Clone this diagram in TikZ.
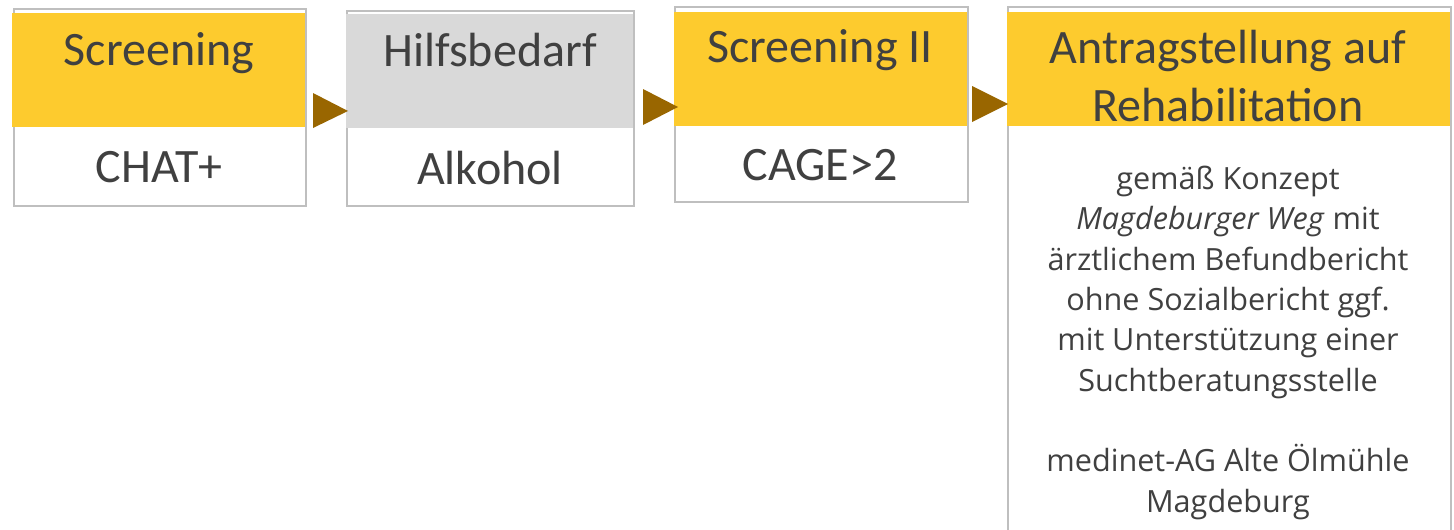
\documentclass[tikz,border=0pt]{standalone}
\usepackage{fontspec}
\setmainfont{Carlito}
\newfontfamily\bodyfont{Open Sans}
\definecolor{txt}{HTML}{404040}
\definecolor{brd}{HTML}{BFBFBF}
\definecolor{yel}{HTML}{FDCB2E}
\definecolor{gry}{HTML}{D9D9D9}
\definecolor{arrc}{HTML}{996600}
\begin{document}
\begin{tikzpicture}[x=1pt,y=-1pt,
  frame/.style={draw=brd, line width=1.6pt, fill=white, inner sep=0pt, anchor=north west},
  hdr/.style={inner sep=0pt, anchor=north west, draw=none},
  ttl/.style={text=txt, font=\fontsize{48}{58}\selectfont, inner sep=0pt, anchor=base, align=center},
  bodytxt/.style={text=txt, font=\bodyfont\fontsize{30.6}{40.3}\selectfont, inner sep=0pt, align=center},
  tri/.style={fill=arrc}]
\useasboundingbox (0,0) rectangle (1454,530);
% Box 1
\node[frame, minimum width=292pt, minimum height=197pt] (b1) at (13,8) {};
\node[hdr, fill=yel, minimum width=293pt, minimum height=114pt] (h1) at (12,13) {};
\node[ttl] (t1) at (159,65) {Screening};
\node[ttl] (s1) at (159,182) {CHAT+};
% Box 2
\node[frame, minimum width=287pt, minimum height=195pt] (b2) at (346,10) {};
\node[hdr, fill=gry, minimum width=287pt, minimum height=114pt] (h2) at (346,14) {};
\node[ttl] (t2) at (490,66) {Hilfsbedarf};
\node[ttl] (s2) at (490,184) {Alkohol};
% Box 3
\node[frame, minimum width=293pt, minimum height=195pt] (b3) at (674,6) {};
\node[hdr, fill=yel, minimum width=293pt, minimum height=114pt] (h3) at (674,12) {};
\node[ttl] (t3) at (820,62) {Screening II};
\node[ttl] (s3) at (820,180) {CAGE>2};
% Box 4
\node[frame, minimum width=443pt, minimum height=540pt] (b4) at (1007,6) {};
\node[hdr, fill=yel, minimum width=443pt, minimum height=114pt] (h4) at (1007,12) {};
\node[ttl] (t4) at (1228,121) {Antragstellung auf\\Rehabilitation};
\node[bodytxt, anchor=base] (s4) at (1228,512) {gemäß Konzept\\\textit{Magdeburger Weg} mit\\ärztlichem Befundbericht\\ohne Sozialbericht ggf.\\mit Unterstützung einer\\Suchtberatungsstelle\\[40.3pt]medinet-AG Alte Ölmühle\\Magdeburg};
% Arrows
\fill[tri] (313,93) -- (348,111) -- (313,128) -- cycle;
\fill[tri] (643,89) -- (678,107) -- (643,125) -- cycle;
\fill[tri] (972,86) -- (1008,104) -- (972,122) -- cycle;
\end{tikzpicture}
\end{document}
